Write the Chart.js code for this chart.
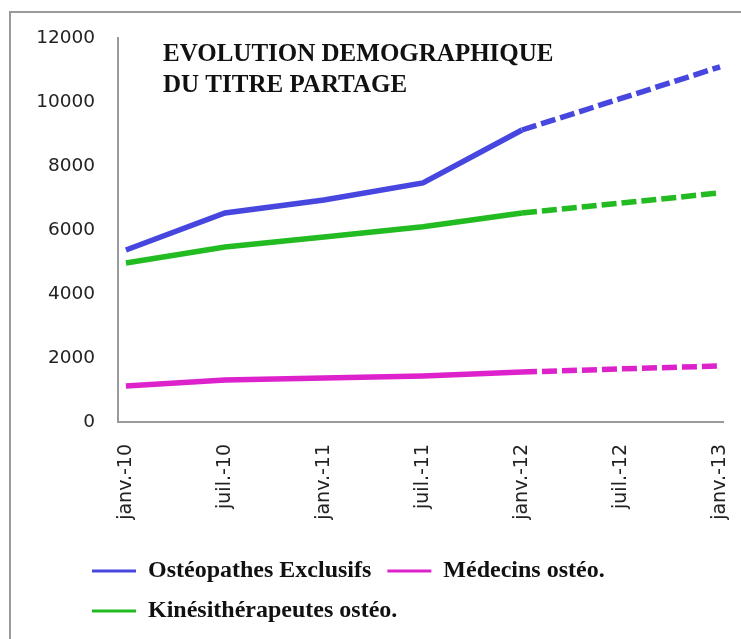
<!DOCTYPE html>
<html>
<head>
<meta charset="utf-8">
<script src="https://cdn.jsdelivr.net/npm/chart.js@4.4.1/dist/chart.umd.min.js"></script>
<style>
  body { margin: 0; background: #fff; }
  #wrap { position: relative; width: 741px; height: 639px; overflow: hidden; }
  #frame { position: absolute; left: 9px; top: 11px; width: 760px; height: 700px; border: 2px solid #9a9a9a; }
  #chart-demo { position: absolute; left: 0; top: 0; }
</style>
</head>
<body>
<div id="wrap">
  <div id="frame"></div>
  <canvas id="chart-demo" width="741" height="639"></canvas>
</div>
<script>
const $chartDemo = document.querySelector("#chart-demo");

const dates = ["janv.-10", "juil.-10", "janv.-11", "juil.-11", "janv.-12", "juil.-12", "janv.-13"];
const titleLines = ["EVOLUTION DEMOGRAPHIQUE", "DU TITRE PARTAGE"];
const yTicks = [0, 2000, 4000, 6000, 8000, 10000, 12000];

const osteoExclusifs = [5375, 6530, 6940, 7470, 9125, 10110, 11100];
const medecinsOsteo = [1125, 1310, 1375, 1440, 1560, 1660, 1750];
const kinesOsteo = [4970, 5470, 5780, 6100, 6530, 6840, 7160];

// les valeurs a partir de janv.-12 sont des projections (tirets)
const dashAfter = 4;

function serie(label, values, color) {
    return {
        label: label,
        data: values.map((v, i) => ({ x: i, y: v })),
        borderColor: color,
        backgroundColor: color,
        borderWidth: 5.5,
        pointRadius: 0,
        tension: 0,
        segment: {
            borderDash: ctx => ctx.p0DataIndex >= dashAfter ? [15, 5] : undefined
        }
    };
}

// titre dans la zone du graphique + legende decalee
const overlay = {
    id: 'overlay',
    afterLayout(chart) {
        chart.legend.left = 76;
        chart.legend.top = 543;
    },
    afterDraw(chart) {
        const ctx = chart.ctx;
        ctx.save();
        ctx.font = 'bold 25px "Liberation Serif"';
        ctx.fillStyle = '#111';
        ctx.textBaseline = 'middle';
        titleLines.forEach((t, i) => ctx.fillText(t, 163, 55 + i * 31));
        ctx.restore();
    }
};

new Chart($chartDemo, {
    type: 'line',
    data: {
        datasets: [
            serie("Ostéopathes Exclusifs", osteoExclusifs, '#4747e0'),
            serie("Médecins ostéo.", medecinsOsteo, '#dd22cc'),
            serie("Kinésithérapeutes ostéo.", kinesOsteo, '#22bb22')
        ]
    },
    options: {
        responsive: false,
        animation: false,
        layout: { padding: { left: 10, right: 18, top: 38, bottom: 0 } },
        scales: {
            x: {
                type: 'linear',
                bounds: 'data',
                min: -0.08,
                max: 6.03,
                afterBuildTicks: scale => { scale.ticks = dates.map((d, i) => ({ value: i })); },
                afterFit: scale => {
                    scale.height = scale.chart.height - 422 - scale.chart.legend.height;
                    scale.paddingLeft = 0;
                    scale.paddingRight = 0;
                },
                grid: { display: false, drawTicks: false },
                border: { display: true, color: '#9a9a9a', width: 2 },
                ticks: {
                    autoSkip: false,
                    minRotation: 90,
                    maxRotation: 90,
                    padding: 22,
                    color: '#222',
                    font: { family: 'DejaVu Sans', size: 19 },
                    callback: v => dates[v]
                }
            },
            y: {
                min: 0,
                max: 12000,
                afterBuildTicks: scale => { scale.ticks = yTicks.map(v => ({ value: v })); },
                afterFit: scale => { scale.width = 108; },
                grid: { display: false, drawTicks: false },
                border: { display: true, color: '#9a9a9a', width: 2 },
                ticks: {
                    padding: 23,
                    color: '#222',
                    font: { family: 'DejaVu Sans', size: 18.5 },
                    callback: v => String(v)
                }
            }
        },
        plugins: {
            legend: {
                position: 'bottom',
                align: 'start',
                labels: {
                    boxWidth: 44,
                    boxHeight: 3,
                    padding: 16,
                    color: '#111',
                    font: { family: 'Liberation Serif', size: 24, weight: 'bold' },
                    generateLabels: chart => Chart.defaults.plugins.legend.labels.generateLabels(chart)
                        .map(l => Object.assign(l, { lineWidth: 0, lineDash: [] }))
                }
            },
            tooltip: { enabled: false }
        }
    },
    plugins: [overlay]
});
</script>
</body>
</html>
